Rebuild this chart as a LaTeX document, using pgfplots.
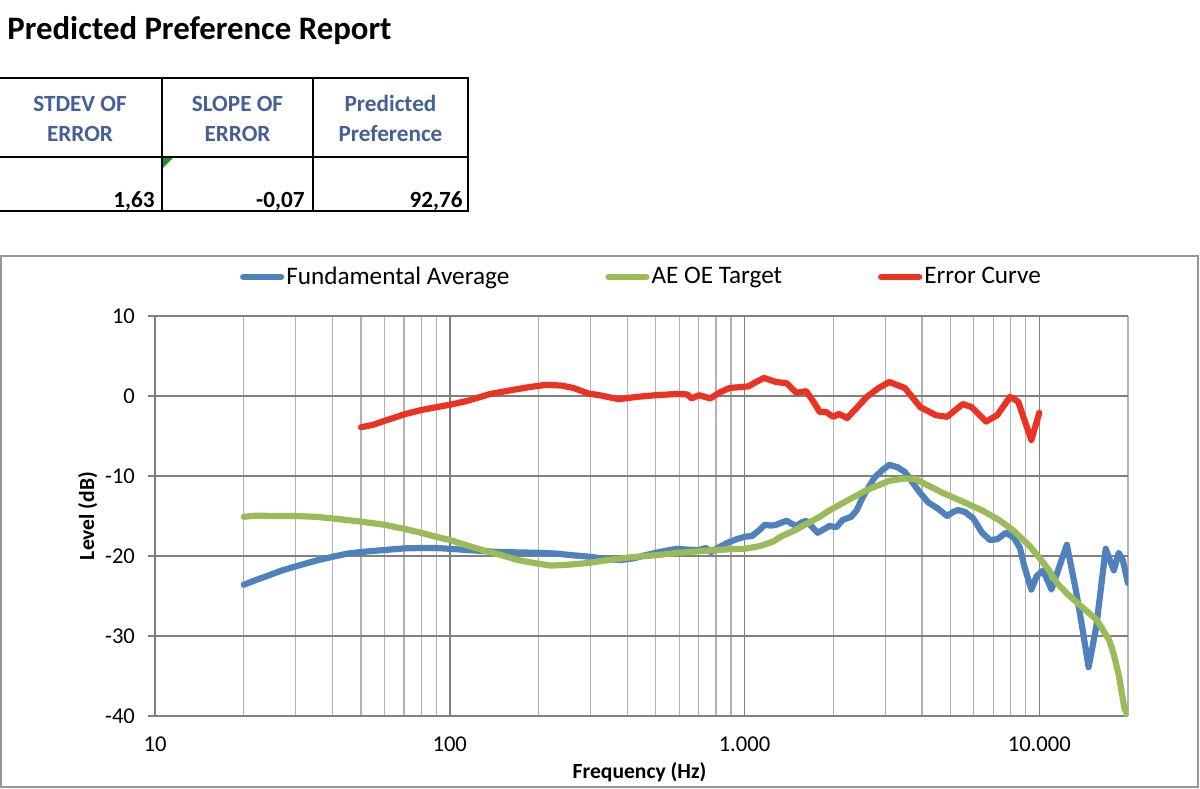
\documentclass[border=0pt]{standalone}
\usepackage{fontspec}
\setmainfont{Carlito}
\usepackage{pgfplots}
\pgfplotsset{compat=1.18}

\definecolor{fundblue}{RGB}{79,129,189}
\definecolor{targetgreen}{RGB}{155,187,89}
\definecolor{errred}{RGB}{234,51,35}
\definecolor{headblue}{RGB}{68,96,148}
\definecolor{majgrid}{RGB}{128,128,128}
\definecolor{mingrid}{RGB}{178,178,178}
\definecolor{boxgray}{RGB}{150,150,150}
\definecolor{flaggreen}{RGB}{40,140,40}

\begin{document}
\begin{tikzpicture}[x=0.5pt,y=0.5pt]
\useasboundingbox (0,0) rectangle (1200,788);

% title
\node[anchor=base west, inner sep=0, font=\fontsize{16.4}{19}\selectfont\bfseries]
  at (7,748) {Predicted Preference Report};

% summary table
\draw[line width=1.35pt] (-10,710) -- (468,710) -- (468,577) -- (-10,577);
\draw[line width=1pt] (-10,631) -- (468,631);
\draw[line width=0.85pt] (162,710) -- (162,577) (313,710) -- (313,577);
\fill[flaggreen] (163,630) -- (173,630) -- (163,620) -- cycle;
\begin{scope}[every node/.style={inner sep=0, font=\fontsize{11.6}{14}\selectfont\bfseries}]
  \node[anchor=base, text=headblue] at (80,676) {STDEV OF};
  \node[anchor=base, text=headblue] at (80,646) {ERROR};
  \node[anchor=base, text=headblue] at (237.5,676) {SLOPE OF};
  \node[anchor=base, text=headblue] at (237.5,646) {ERROR};
  \node[anchor=base, text=headblue] at (390.5,676) {Predicted};
  \node[anchor=base, text=headblue] at (390.5,646) {Preference};
  \node[anchor=base east] at (155,580) {1,63};
  \node[anchor=base east] at (305,580) {-0,07};
  \node[anchor=base east] at (463,580) {92,76};
\end{scope}

% chart frame
\draw[boxgray, line width=0.75pt] (1,1) rectangle (1198,532);

\begin{axis}[
    at={(77.5pt,36pt)}, anchor=south west,
    scale only axis,
    width=486.5pt, height=200pt,
    xmode=log,
    xmin=10, xmax=20000,
    ymin=-40, ymax=10,
    xtick={10,100,1000,10000},
    xticklabels={10,100,1.000,10.000},
    minor xtick={20,30,40,50,60,70,80,90,200,300,400,500,600,700,800,900,
                 2000,3000,4000,5000,6000,7000,8000,9000,20000},
    ytick={-40,-30,-20,-10,0,10},
    xmajorgrids, xminorgrids, ymajorgrids,
    major grid style={majgrid, line width=0.75pt},
    minor grid style={mingrid, line width=0.6pt},
    axis lines=left,
    axis line style={-, majgrid, line width=0.75pt},
    tick align=outside,
    major tick length=3.5pt,
    xtick style={draw=none},
    minor tick style={draw=none},
    ytick style={majgrid, line width=0.75pt},
    tick label style={font=\fontsize{11.3}{13}\selectfont},
    /pgf/number format/assume math mode=true,
    xticklabel style={yshift=-3.5pt},
    yticklabel style={xshift=-3pt},
    xlabel={\bfseries Frequency (Hz)},
    ylabel={\bfseries Level (dB)},
    label style={font=\fontsize{10.8}{12}\selectfont},
    xlabel style={at={(axis description cs:0.498,-0.14)}, anchor=center},
    ylabel style={at={(axis description cs:-0.069,0.5)}, anchor=center},
    legend style={at={(0.5,1.0975)}, anchor=center, draw=none, fill=none,
                  legend columns=3, font=\fontsize{12.6}{15}\selectfont,
                  nodes={inner sep=1pt},
                  /tikz/every even column/.append style={column sep=47pt}},
    legend image code/.code={\draw[#1] (0pt,0pt) -- (19pt,0pt);},
]

% Fundamental Average
\addplot[fundblue, line width=3.1pt, line join=round, line cap=round] coordinates {
    (20,-23.6) (22,-23.0) (24,-22.5) (27,-21.8) (30,-21.3) (35,-20.6)
    (40,-20.1) (45,-19.7) (50,-19.5) (60,-19.25) (70,-19.05) (80,-19.0)
    (90,-19.0) (100,-19.1) (120,-19.3) (145,-19.5) (170,-19.55) (200,-19.6)
    (230,-19.7) (260,-19.9) (300,-20.1) (340,-20.4) (380,-20.5) (420,-20.3)
    (460,-19.9) (500,-19.6) (550,-19.3) (590,-19.1) (640,-19.2) (700,-19.25)
    (740,-19.0) (770,-19.5) (820,-18.9) (870,-18.4) (940,-17.9) (1000,-17.6)
    (1060,-17.5) (1120,-16.8) (1170,-16.1) (1230,-16.2) (1280,-16.1)
    (1340,-15.8) (1390,-15.6) (1450,-16.0) (1500,-16.25) (1560,-15.8)
    (1620,-15.6) (1690,-16.3) (1770,-17.1) (1850,-16.7) (1940,-16.25)
    (2050,-16.4) (2150,-15.5) (2300,-15.1) (2400,-14.3) (2530,-12.5)
    (2760,-10.2) (2950,-9.2) (3100,-8.6) (3300,-8.9) (3500,-9.5)
    (3700,-10.7) (3900,-11.9) (4200,-13.3) (4500,-14.0) (4870,-15.0)
    (5100,-14.5) (5300,-14.25) (5600,-14.5) (5970,-15.3) (6400,-17.1)
    (6800,-18.0) (7200,-17.9) (7700,-17.1) (8200,-17.7) (8600,-19.0)
    (8900,-21.3) (9400,-24.2) (9800,-22.5) (10300,-21.8) (11000,-24.2)
    (12400,-18.6) (13300,-24.2) (14000,-29.0) (14700,-33.9) (15600,-28.9)
    (16800,-19.1) (17900,-21.8) (18600,-19.6) (19200,-20.5) (20000,-23.4)
};
\addlegendentry{Fundamental Average}

% AE OE Target
\addplot[targetgreen, line width=3.1pt, line join=round, line cap=round] coordinates {
    (20,-15.1) (22,-14.95) (25,-15.0) (30,-15.0) (35,-15.1) (40,-15.3)
    (50,-15.7) (60,-16.1) (70,-16.6) (80,-17.1) (90,-17.6) (100,-18.0)
    (115,-18.7) (130,-19.3) (150,-19.9) (170,-20.5) (195,-20.9) (220,-21.2)
    (250,-21.1) (290,-20.9) (330,-20.6) (400,-20.2) (500,-19.9) (600,-19.6)
    (700,-19.4) (800,-19.25) (900,-19.15) (1000,-19.1) (1130,-18.75)
    (1250,-18.2) (1340,-17.5) (1480,-16.8) (1620,-16.0) (1800,-15.1)
    (1940,-14.3) (2250,-13.0) (2600,-11.75) (3100,-10.6) (3500,-10.3)
    (3800,-10.4) (4050,-10.9) (4700,-12.1) (5500,-13.2) (6400,-14.3)
    (7300,-15.5) (8100,-16.7) (8600,-17.6) (9300,-18.8) (10000,-20.2)
    (10800,-21.8) (11500,-23.4) (12500,-24.8) (13500,-25.9) (14500,-26.9)
    (15600,-27.9) (16300,-29.0) (17260,-30.5) (17900,-32.3) (18660,-35.1)
    (19440,-39.0) (20000,-40.0)
};
\addlegendentry{AE OE Target}

% Error Curve
\addplot[errred, line width=3.1pt, line join=round, line cap=round] coordinates {
    (50,-3.9) (55,-3.6) (59,-3.2) (65,-2.7) (70,-2.3) (80,-1.75) (90,-1.4)
    (100,-1.1) (115,-0.6) (137,0.25) (160,0.7) (185,1.1) (213,1.4) (240,1.3)
    (263,1.0) (296,0.3) (322,0.1) (374,-0.4) (433,-0.1) (500,0.1) (587,0.25)
    (640,0.2) (660,-0.3) (702,0.1) (765,-0.3) (830,0.5) (890,1.0) (1030,1.2)
    (1100,1.8) (1165,2.25) (1280,1.75) (1390,1.6) (1500,0.4) (1620,0.6)
    (1720,-0.8) (1800,-2.0) (1890,-2.0) (2000,-2.6) (2090,-2.25) (2230,-2.75)
    (2400,-1.5) (2600,-0.1) (2850,1.0) (3100,1.75) (3500,1.0) (3950,-1.4)
    (4460,-2.4) (4870,-2.6) (5500,-1.0) (5900,-1.4) (6600,-3.2) (7200,-2.4)
    (7960,-0.1) (8480,-0.7) (9000,-3.5) (9400,-5.5) (10000,-2.1)
};
\addlegendentry{Error Curve}

\end{axis}
\end{tikzpicture}
\end{document}
